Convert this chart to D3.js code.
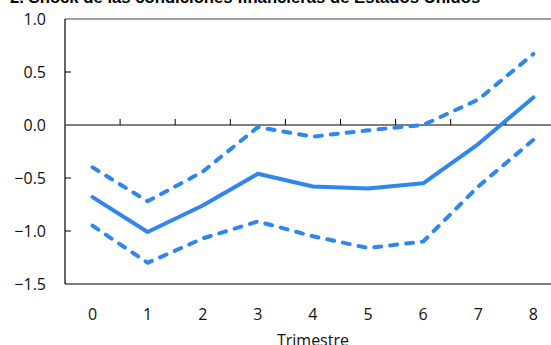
<!DOCTYPE html>
<html>
<head>
<meta charset="utf-8">
<script src="https://cdn.jsdelivr.net/npm/d3@7"></script>
<style>
  html, body { margin: 0; padding: 0; background: #fff; }
  svg { display: block; }
</style>
</head>
<body>
<svg id="chart" width="551" height="345"></svg>
<script>
// Quarters after the shock
const quarters = [0, 1, 2, 3, 4, 5, 6, 7, 8];
// Point estimate and confidence bands
const central = [-0.68, -1.01, -0.76, -0.46, -0.58, -0.60, -0.55, -0.18, 0.26];
const upper   = [-0.40, -0.72, -0.44, -0.02, -0.11, -0.05, 0.00, 0.24, 0.67];
const lower   = [-0.95, -1.30, -1.07, -0.91, -1.05, -1.16, -1.10, -0.58, -0.14];
const yTicks = [1.0, 0.5, 0.0, -0.5, -1.0, -1.5];

const title = "2. Shock de las condiciones financieras de Estados Unidos";
const xTitle = "Trimestre";

const svg = d3.select("#chart");
const plotLeft = 65, plotTop = 19, plotBottom = 284, bandW = 55.1;
const plotRight = plotLeft + bandW * quarters.length;

const x = d3.scaleBand().domain(quarters).range([plotLeft, plotRight]).paddingInner(0).paddingOuter(0);
const y = d3.scaleLinear().domain([-1.5, 1.0]).range([plotBottom, plotTop]);
const cx = d => x(d) + x.bandwidth() / 2;

const font = "'Open Sans', 'Noto Sans', sans-serif";
const blue = "#2f86ef";

// Title (runs off the top edge)
svg.append("text")
  .attr("x", 10).attr("y", 3)
  .attr("font-family", "'Liberation Sans', Arial, sans-serif")
  .attr("font-weight", "bold").attr("font-size", 16.7)
  .attr("fill", "#000")
  .text(title);

// Frame: top gray line, left and bottom axis lines
svg.append("line").attr("x1", plotLeft).attr("x2", plotRight)
  .attr("y1", y(1.0)).attr("y2", y(1.0))
  .attr("stroke", "#808080").attr("stroke-width", 1.5);
svg.append("line").attr("x1", plotLeft).attr("x2", plotRight)
  .attr("y1", y(-1.5)).attr("y2", y(-1.5))
  .attr("stroke", "#000").attr("stroke-width", 1.2);
svg.append("line").attr("x1", plotLeft).attr("x2", plotLeft)
  .attr("y1", y(1.0)).attr("y2", y(-1.5))
  .attr("stroke", "#000").attr("stroke-width", 1.2);

// Zero line with category-boundary ticks
svg.append("line").attr("x1", plotLeft).attr("x2", plotRight)
  .attr("y1", y(0)).attr("y2", y(0))
  .attr("stroke", "#555").attr("stroke-width", 1.3);
svg.selectAll(".xtick").data(quarters.slice(1))
  .enter().append("line")
  .attr("x1", d => x(d)).attr("x2", d => x(d))
  .attr("y1", y(0)).attr("y2", y(0) - 6)
  .attr("stroke", "#000").attr("stroke-width", 1);

// Y axis ticks (inward) and labels
svg.selectAll(".ytick").data(yTicks.filter(v => v !== 1.0 && v !== 0 && v !== -1.5))
  .enter().append("line")
  .attr("x1", plotLeft).attr("x2", plotLeft + 6)
  .attr("y1", d => y(d)).attr("y2", d => y(d))
  .attr("stroke", "#000").attr("stroke-width", 1);
svg.selectAll(".ylab").data(yTicks)
  .enter().append("text")
  .attr("x", 46).attr("y", d => y(d))
  .attr("dy", "0.35em")
  .attr("text-anchor", "end")
  .attr("font-family", font).attr("font-size", 16)
  .attr("fill", "#111")
  .text(d => d3.format(".1f")(d));

// X labels
svg.selectAll(".xlab").data(quarters)
  .enter().append("text")
  .attr("x", d => cx(d)).attr("y", 320)
  .attr("text-anchor", "middle")
  .attr("font-family", font).attr("font-size", 16)
  .attr("fill", "#111")
  .text(d => d);

// Axis title (runs off the bottom edge)
svg.append("text")
  .attr("x", (cx(0) + cx(8)) / 2).attr("y", 346)
  .attr("text-anchor", "middle")
  .attr("font-family", font).attr("font-size", 16)
  .attr("fill", "#111")
  .text(xTitle);

// Series
const line = d3.line().x((d, i) => cx(quarters[i])).y(d => y(d));
const series = [
  { values: upper, dash: "7,9" },
  { values: lower, dash: "7,9" },
  { values: central, dash: null }
];
series.forEach(s => {
  svg.append("path")
    .attr("d", line(s.values))
    .attr("fill", "none")
    .attr("stroke", blue)
    .attr("stroke-width", 4)
    .attr("stroke-linecap", "round")
    .attr("stroke-linejoin", "round")
    .attr("stroke-dasharray", s.dash);
});
</script>
</body>
</html>
